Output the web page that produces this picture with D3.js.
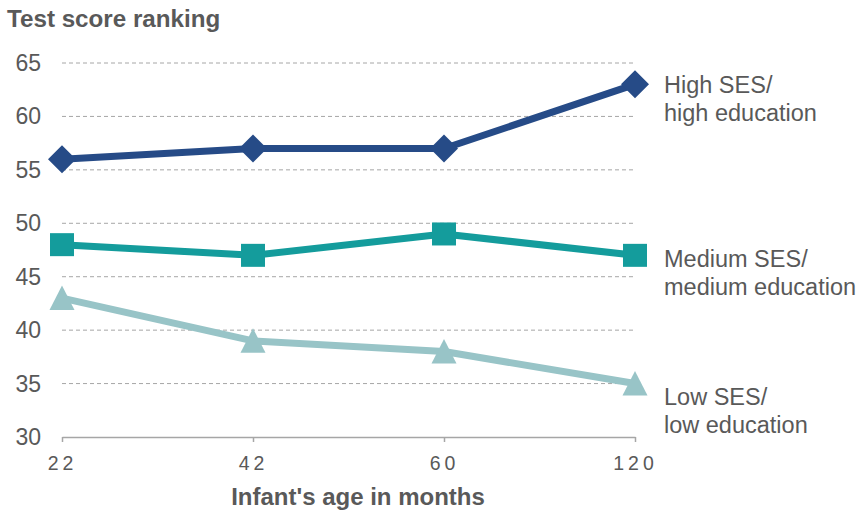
<!DOCTYPE html>
<html><head><meta charset="utf-8">
<script src="https://cdn.jsdelivr.net/npm/d3@7"></script>
<style>
body{margin:0;background:#fff;}
text{font-family:Arial,"Liberation Sans",sans-serif;}
</style></head>
<body><svg id="c" width="866" height="510"></svg>
<script>
const categories = ["22","42","60","120"];
const yTicks = [30,35,40,45,50,55,60,65];
const highSES = [56,57,57,63];
const mediumSES = [48,47,49,47];
const lowSES = [43,39,38,35];
const seriesNames = [["High SES/","high education"],["Medium SES/","medium education"],["Low SES/","low education"]];
const seriesColors = ["#264b87","#149c9c","#98c4c7"];
const seriesSymbols = ["diamond","square","triangle"];

const svg = d3.select("#c");
const x = d3.scalePoint().domain(categories).range([62,635]).padding(0);
const y = d3.scaleLinear().domain([30,65]).range([437,63]);
const font = "Arial,'Liberation Sans',sans-serif";

// title
svg.append("text").attr("x",7).attr("y",27).attr("font-size",24.2).attr("font-weight","bold").attr("fill","#595959").text("Test score ranking");

// gridlines
svg.append("g").selectAll("line").data(yTicks.filter(d=>d>30)).join("line")
  .attr("x1",62).attr("x2",635).attr("y1",d=>y(d)).attr("y2",d=>y(d))
  .attr("stroke","#a6a6a6").attr("stroke-width",1).attr("stroke-dasharray","4,3");

// y labels
svg.append("g").selectAll("text").data(yTicks).join("text")
  .attr("x",41).attr("y",d=>y(d)).attr("dy","0.35em").attr("text-anchor","end")
  .attr("font-size",23).attr("fill","#595959").text(d=>d);

// x axis
const xa = svg.append("g").attr("transform","translate(0,437)")
  .call(d3.axisBottom(x).tickSize(5).tickSizeOuter(0).tickPadding(14));
xa.select(".domain").attr("stroke","#a6a6a6").attr("stroke-width",1.5);
xa.selectAll(".tick line").attr("stroke","#a6a6a6").attr("stroke-width",1.5);
xa.selectAll(".tick text").attr("font-size",19.5).attr("fill","#595959").attr("letter-spacing","4px")
  .attr("font-family",font);

svg.append("text").attr("x",358).attr("y",505).attr("text-anchor","middle").attr("font-size",24)
  .attr("font-weight","bold").attr("fill","#595959").text("Infant's age in months");

const markerPaths = {
  diamond: "M0,-14L14,0L0,14L-14,0Z",
  square: "M-12,-11.5L12,-11.5L12,11.5L-12,11.5Z",
  triangle: "M0,-12.5L12.5,12L-12.5,12Z"
};
const labelShift = [8.6, 12, 21.4];

const data = [highSES, mediumSES, lowSES];
const line = d3.line().x((d,i)=>x(categories[i])).y(d=>y(d));
data.forEach((vals,k)=>{
  const g = svg.append("g");
  g.append("path").datum(vals).attr("d",line).attr("fill","none")
    .attr("stroke",seriesColors[k]).attr("stroke-width",7).attr("stroke-linejoin","round");
  g.selectAll("path.m").data(vals).join("path").attr("class","m")
    .attr("d",markerPaths[seriesSymbols[k]])
    .attr("transform",(d,i)=>`translate(${x(categories[i])},${y(d)})`)
    .attr("fill",seriesColors[k]);
  const last = vals[vals.length-1];
  const t = svg.append("text").attr("x",664).attr("y",y(last)+labelShift[k]).attr("font-size",23.5).attr("fill","#595959");
  t.selectAll("tspan").data(seriesNames[k]).join("tspan").attr("x",664)
    .attr("dy",(d,i)=>i===0?0:27.7).text(d=>d);
});
</script></body></html>
